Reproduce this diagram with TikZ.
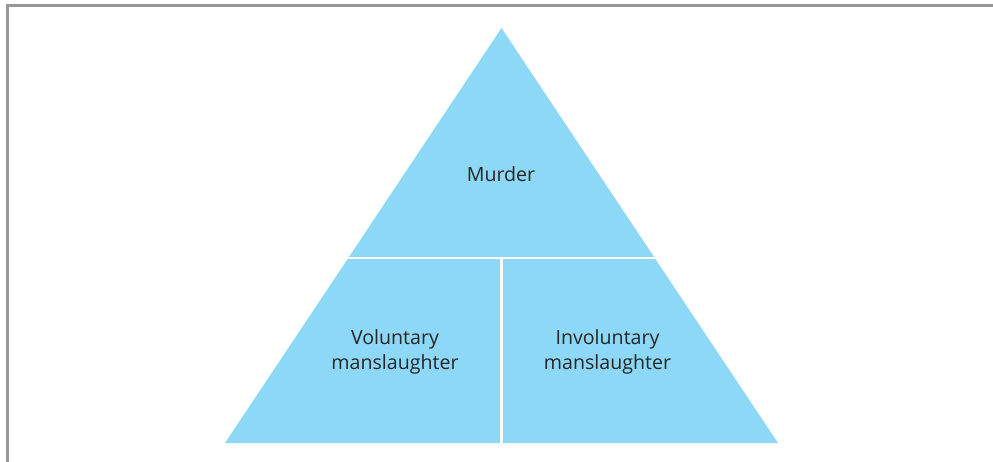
\documentclass[tikz,border=0pt]{standalone}
\usepackage{fontspec}
\setmainfont{Open Sans}
\definecolor{tri}{RGB}{141,216,246}
\definecolor{frame}{RGB}{152,152,154}
\begin{document}
\begin{tikzpicture}[x=1pt,y=-1pt,
  lbl/.style={align=center,font=\fontsize{19.6}{25}\selectfont,text=black!85,inner sep=0pt},
  gap/.style={white,line width=2.7pt}]
\useasboundingbox (0,0) rectangle (993,462);
\draw[frame,line width=3pt] (7,462) -- (7,6) -- (993,6);
\coordinate (apex) at (501.5,28);
\coordinate (bl) at (225,443);
\coordinate (br) at (778,443);
\fill[tri] (apex) -- (br) -- (bl) -- cycle;
\begin{scope}
\clip (apex) -- (br) -- (bl) -- cycle;
\draw[gap] (200,258) -- (800,258);
\draw[gap] (501.3,258) -- (501.3,450);
\end{scope}
\node[lbl] (murder) at (501,174.5) {Murder};
\node[lbl] (vol) at (395,352) {Voluntary\\manslaughter};
\node[lbl] (invol) at (607.5,352) {Involuntary\\manslaughter};
\end{tikzpicture}
\end{document}
